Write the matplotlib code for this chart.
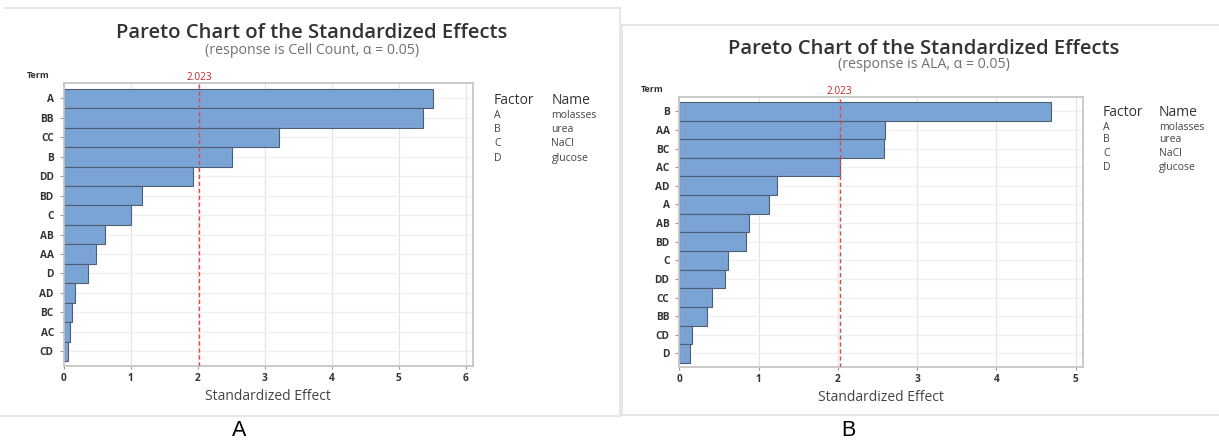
import matplotlib
matplotlib.use("Agg")
import matplotlib.pyplot as plt
from matplotlib.lines import Line2D

# Pareto data: terms ordered by standardized effect
terms_a = ["A", "BB", "CC", "B", "DD", "BD", "C", "AB", "AA", "D", "AD", "BC", "AC", "CD"]
effects_a = [5.52, 5.37, 3.22, 2.52, 1.93, 1.17, 1.00, 0.62, 0.48, 0.37, 0.17, 0.12, 0.10, 0.07]

terms_b = ["B", "AA", "BC", "AC", "AD", "A", "AB", "BD", "C", "DD", "CC", "BB", "CD", "D"]
effects_b = [4.69, 2.60, 2.58, 2.03, 1.23, 1.13, 0.88, 0.84, 0.61, 0.58, 0.41, 0.35, 0.16, 0.13]

critical_value = 2.023
factor_codes = ["A", "B", "C", "D"]
factor_names = ["molasses", "urea", "NaCl", "glucose"]
responses = ["Cell Count", "ALA"]
panel_labels = ["A", "B"]

W, H = 1219, 442
fig = plt.figure(figsize=(W / 100, H / 100), dpi=100)
fig.patch.set_facecolor("white")

FONT = ["Open Sans", "DejaVu Sans"]
BAR_COLOR = "#7aa4d6"
EDGE_COLOR = "#4f5e72"
TEXT_DARK = "#333333"


def fx(x):
    return x / W


def fy(y):
    return 1 - y / H


def add_axes_px(left, top, right, bottom):
    return fig.add_axes([fx(left), fy(bottom), (right - left) / W, (bottom - top) / H])


def pareto(ax, terms, effects, xmax, ticks, pad_top, pad_bot):
    n = len(terms)
    pos = list(range(n))
    ax.set_axisbelow(True)
    for t in ticks:
        ax.axvline(t, color="#e4e4e4", lw=0.9, zorder=0)
    for p in pos:
        ax.axhline(p, color="#efefef", lw=0.9, zorder=0)
    ax.barh(pos, effects, height=1.0, color=BAR_COLOR, edgecolor=EDGE_COLOR,
            linewidth=0.8, zorder=2)
    ax.axvline(critical_value, color="#e04848", lw=1.0, ls=(0, (3, 2)), zorder=3)
    ax.set_xlim(0, xmax)
    ax.set_ylim(n - 0.5 + pad_bot, -0.5 - pad_top)
    ax.set_yticks(pos)
    ax.set_yticklabels(terms, family=FONT, fontsize=7.3, fontweight="bold", color=TEXT_DARK)
    ax.set_xticks(ticks)
    ax.set_xticklabels([str(t) for t in ticks], family=FONT, fontsize=7.3,
                       fontweight="bold", color=TEXT_DARK)
    ax.tick_params(axis="y", length=3, width=0.8, color="#999999", pad=4)
    ax.tick_params(axis="x", length=2, width=0.8, color="#999999", pad=3)
    for s in ax.spines.values():
        s.set_color("#c6c6c6")
        s.set_linewidth(1.3)
    ax.set_xlabel("Standardized Effect", family=FONT, fontsize=10, color="#444444",
                  labelpad=4)
    ax.text(critical_value, 1.0, "2.023", transform=ax.get_xaxis_transform(),
            ha="center", va="bottom", family=FONT, fontsize=7.3, color="#c0282d")


# Panel frames
fig.add_artist(Line2D([fx(5), fx(620)], [fy(7.5), fy(7.5)], color="#e2e2e2", lw=1.2))
fig.add_artist(Line2D([fx(620), fx(620)], [fy(7.5), fy(416)], color="#e2e2e2", lw=1.2))
fig.add_artist(Line2D([fx(0), fx(620)], [fy(416), fy(416)], color="#e2e2e2", lw=1.2))
fig.add_artist(Line2D([fx(622), fx(1219)], [fy(24.5), fy(24.5)], color="#e2e2e2", lw=1.2))
fig.add_artist(Line2D([fx(622), fx(622)], [fy(24.5), fy(415)], color="#e2e2e2", lw=1.2))
fig.add_artist(Line2D([fx(622), fx(1219)], [fy(415), fy(415)], color="#e2e2e2", lw=1.2))

# Panel A
ax_a = add_axes_px(63.5, 83.3, 473, 366)
pareto(ax_a, terms_a, effects_a, 6.11, [0, 1, 2, 3, 4, 5, 6], 0.28, 0.26)

# Panel B
ax_b = add_axes_px(679.3, 97.3, 1082.7, 366.7)
pareto(ax_b, terms_b, effects_b, 5.09, [0, 1, 2, 3, 4, 5], 0.25, 0.21)

panels = [
    dict(title_x=312, title_y=30, sub_y=48, term_x=38, term_y=74,
         fac_x=494, name_x=551.5, head_y=98, rows_y=[113.5, 127.8, 142.2, 156.5],
         lab_x=239),
    dict(title_x=924, title_y=46, sub_y=63, term_x=652, term_y=89,
         fac_x=1103, name_x=1159, head_y=111, rows_y=[126, 138.5, 152, 166],
         lab_x=848),
]

for p, resp, lab in zip(panels, responses, panel_labels):
    fig.text(fx(p["title_x"]), fy(p["title_y"]), "Pareto Chart of the Standardized Effects",
             ha="center", va="center_baseline", family=FONT, fontsize=14.6,
             fontweight="semibold", color="#333333")
    fig.text(fx(p["title_x"]), fy(p["sub_y"]), f"(response is {resp}, \u03b1 = 0.05)",
             ha="center", va="center_baseline", family=FONT, fontsize=10.2, color="#707070")
    fig.text(fx(p["term_x"]), fy(p["term_y"]), "Term", ha="center", va="center_baseline",
             family=FONT, fontsize=6.5, fontweight="bold", color=TEXT_DARK)
    fig.text(fx(p["fac_x"]), fy(p["head_y"]), "Factor", ha="left", va="center_baseline",
             family=FONT, fontsize=10, color=TEXT_DARK)
    fig.text(fx(p["name_x"]), fy(p["head_y"]), "Name", ha="left", va="center_baseline",
             family=FONT, fontsize=10, color=TEXT_DARK)
    for code, name, y in zip(factor_codes, factor_names, p["rows_y"]):
        fig.text(fx(p["fac_x"]), fy(y), code, ha="left", va="center_baseline",
                 family=FONT, fontsize=7.5, color="#444444")
        fig.text(fx(p["name_x"]), fy(y), name, ha="left", va="center_baseline",
                 family=FONT, fontsize=7.5, color="#444444")
    fig.text(fx(p["lab_x"]), fy(430), lab, ha="center", va="center",
             family=["Liberation Sans", "DejaVu Sans"], fontsize=15.5, color="black")

fig.savefig("out.png", dpi=100, facecolor="white")
